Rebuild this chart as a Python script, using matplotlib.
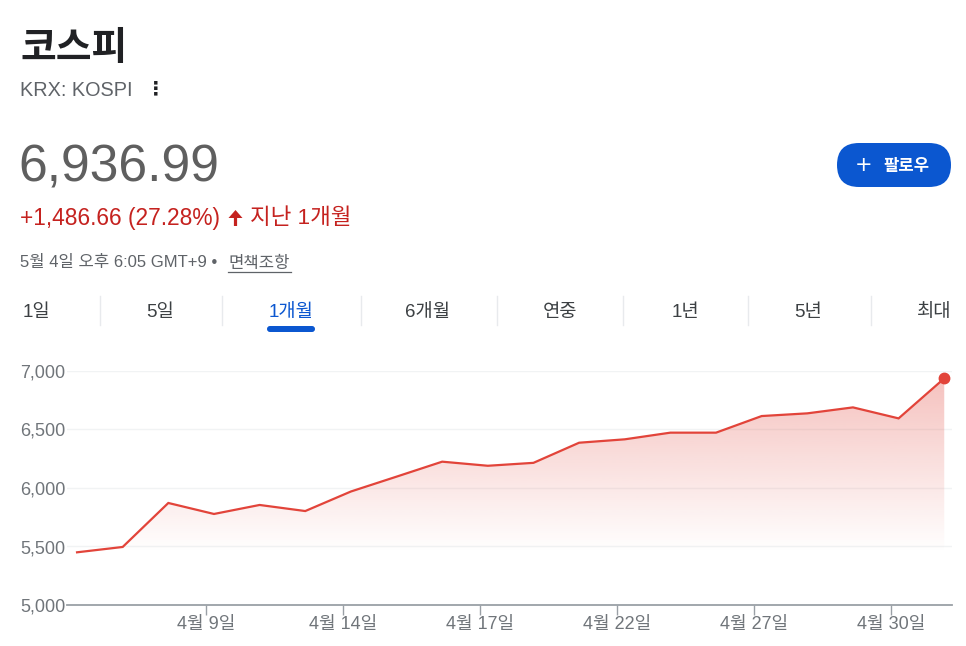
import numpy as np
import matplotlib
matplotlib.use("Agg")
import matplotlib.pyplot as plt
from matplotlib.patches import FancyBboxPatch, FancyArrow
from matplotlib.colors import to_rgb

# data
dates = ['4/6', '4/7', '4/8', '4/9', '4/10', '4/13', '4/14', '4/15', '4/16', '4/17',
         '4/20', '4/21', '4/22', '4/23', '4/24', '4/27', '4/28', '4/29', '4/30', '5/4']
closes = [5450.33, 5496, 5872, 5778, 5855, 5803, 5970, 6097, 6225, 6190,
          6215, 6387, 6416, 6473, 6473, 6615, 6638, 6689, 6595, 6936.99]
tick_dates = ['4/9', '4/14', '4/17', '4/22', '4/27', '4/30']
tick_labels = ['4월 9일', '4월 14일', '4월 17일', '4월 22일', '4월 27일', '4월 30일']
y_ticks = [5000, 5500, 6000, 6500, 7000]
tab_labels = ['1일', '5일', '1개월', '6개월', '연중', '1년', '5년', '최대']

name = '코스피'
ticker = 'KRX: KOSPI'
price = '6,936.99'
change = '+1,486.66 (27.28%)'
period = '지난 1개월'
stamp = '5월 4일 오후 6:05 GMT+9 • '
disclaimer = '면책조항'

RED = '#e2443a'
RED_TXT = '#c5221f'
BLUE = '#0b57d0'
GRAY = '#5f6368'
FONTS = ['Liberation Sans', 'Noto Sans CJK KR', 'DejaVu Sans']

plt.rcParams['font.family'] = FONTS

W, H = 966, 646
fig = plt.figure(figsize=(W / 100, H / 100), dpi=100)

# header layer in pixel coords
top = fig.add_axes([0, 0, 1, 1])
top.set_xlim(0, W)
top.set_ylim(H, 0)
top.axis('off')

top.text(20, 50, name, fontsize=28, fontweight='bold', color='#202124', va='center')
top.text(20, 91, ticker, fontsize=14.3, color=GRAY, va='center')
top.text(156, 89, '⋮', fontsize=14, fontweight='bold', color='#202124', va='center',
         ha='center', family='DejaVu Sans')
top.text(18, 168, price, fontsize=37.2, color='#5f5f5f', va='center')
top.text(20, 218, change, fontsize=16.4, color=RED_TXT, va='center')
top.add_patch(FancyArrow(235.5, 226, 0, -16, width=3.2, head_width=14, head_length=8,
                         length_includes_head=True, color=RED_TXT, lw=0))
top.text(250, 219, period, fontsize=16.2, color=RED_TXT, va='center')
top.text(20, 263, stamp, fontsize=12, color=GRAY, va='center')
top.text(228, 263, disclaimer, fontsize=12, color=GRAY, va='center')
top.plot([228, 291], [272, 272], color=GRAY, lw=0.9)

# follow button
top.add_patch(FancyBboxPatch((837, 143), 114, 44, boxstyle='round,pad=0,rounding_size=22',
                             fc=BLUE, ec='none'))
top.text(864, 165, '+', fontsize=15, color='white', va='center', ha='center',
         family='DejaVu Sans')
top.text(906, 166, '팔로우', fontsize=12, fontweight='bold', color='white', va='center',
         ha='center', family=['Noto Sans CJK KR'])

# tabs
tab_x = [23, 160, 291, 428, 560, 685, 808, 951]
for i, lab in enumerate(tab_labels):
    ha = 'left' if i == 0 else ('right' if i == len(tab_labels) - 1 else 'center')
    col = BLUE if lab == '1개월' else '#3c4043'
    top.text(tab_x[i], 313, lab, fontsize=13.5, color=col, va='center', ha=ha)
for sx in [100, 222, 361, 497, 623, 748, 871]:
    top.plot([sx, sx], [296, 325], color='#e8eaed', lw=1)
top.add_patch(FancyBboxPatch((267, 326), 48, 6, boxstyle='round,pad=0,rounding_size=3',
                             fc=BLUE, ec='none'))

# chart
ax = fig.add_axes([67 / W, 1 - 605 / H, (952 - 67) / W, (605 - 371) / H])
x = np.arange(len(closes))
ax.plot(x, closes, color=RED, lw=1.6, zorder=3, solid_joinstyle='miter')
ax.plot(x[-1], closes[-1], 'o', color=RED, ms=7.5, zorder=4, clip_on=False)

poly = ax.fill_between(x, closes, y_ticks[0], color='none', lw=0)
ny = 300
alpha = np.clip(0.34 * (np.linspace(7000, 5000, ny) - 5450) / (7000 - 5450), 0, 1)
grad = np.zeros((ny, 1, 4))
grad[..., :3] = to_rgb(RED)
grad[..., 3] = alpha[:, None]
img = ax.imshow(grad, extent=[x[0], x[-1], 5000, 7000], origin='upper', aspect='auto',
                zorder=1, interpolation='bilinear')
img.set_clip_path(poly.get_paths()[0], transform=ax.transData)

ax.set_xlim(-0.22, len(closes) - 1 + 0.17)
ax.set_ylim(5000, 7000)
ax.set_yticks(y_ticks)
ax.set_yticklabels([f'{v:,}' for v in y_ticks])
ax.tick_params(axis='y', length=0, pad=1, labelsize=13, labelcolor='#70757a')
for v in y_ticks[1:]:
    ax.axhline(v, color='#f1f3f4', lw=1, zorder=0)

tick_pos = [dates.index(d) - 0.17 for d in tick_dates]
ax.set_xticks(tick_pos)
ax.set_xticklabels(tick_labels)
ax.tick_params(axis='x', length=7, width=1, color='#9aa0a6', pad=1, labelsize=13,
               labelcolor='#70757a')
for s in ['top', 'right', 'left']:
    ax.spines[s].set_visible(False)
ax.spines['bottom'].set_color('#9aa0a6')
ax.spines['bottom'].set_linewidth(1.3)
ax.patch.set_alpha(0)

fig.savefig('out.png', dpi=100)
